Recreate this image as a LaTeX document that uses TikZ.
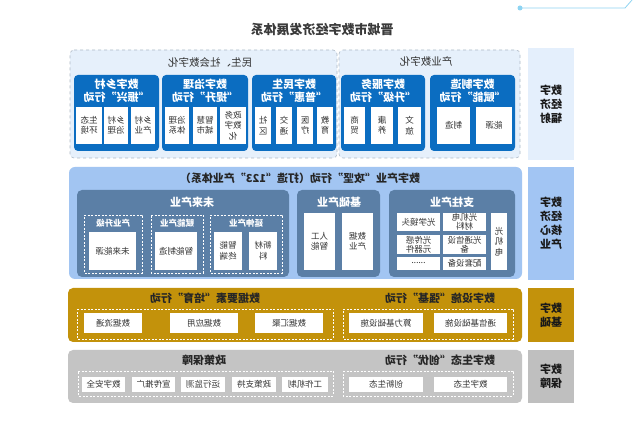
\documentclass[tikz,border=0pt]{standalone}
\usepackage{fontspec}
\setmainfont{Noto Sans CJK SC}
\definecolor{ttl}{HTML}{3A3A3A}
\definecolor{rowA}{HTML}{E6F0FB}
\definecolor{dashg}{HTML}{AEB9C6}
\definecolor{actb}{HTML}{0B6DC1}
\definecolor{rowB}{HTML}{A2C5F2}
\definecolor{slate}{HTML}{5B7FA6}
\definecolor{gold}{HTML}{C3920B}
\definecolor{grayb}{HTML}{C4C4C4}
\definecolor{labA}{HTML}{E4EFFC}
\definecolor{labB}{HTML}{A2C5F3}
\definecolor{labD}{HTML}{BFBFBF}
\definecolor{deco}{HTML}{8ED4F2}
\definecolor{txt}{HTML}{333333}
\newcommand\bx[7]{%
  \pgfmathsetmacro\bxcx{(#2+#4)/2}\pgfmathsetmacro\bxcy{(#3+#5)/2}%
  \pgfmathsetmacro\bxw{#4-#2}\pgfmathsetmacro\bxh{#5-#3}%
  \node[#6, minimum width=\bxw pt, minimum height=\bxh pt] (#1) at (\bxcx,\bxcy) {#7};}
\tikzset{
  base/.style={inner sep=0pt, outer sep=0pt, align=center},
  wbox/.style={base, fill=white, text=txt, font=\fontsize{8.5}{10.5}\selectfont},
  actbox/.style={base, fill=actb, rounded corners=4pt},
  regA/.style={base, fill=rowA, draw=dashg, dashed, rounded corners=4pt, line width=0.6pt},
  rowpanel/.style={base, rounded corners=6pt},
  slatep/.style={base, fill=slate, rounded corners=5pt},
  wdash/.style={base, draw=white, dashed, line width=0.6pt, dash pattern=on 2pt off 1.5pt},
  hdr/.style={base, text=white, font=\fontsize{11}{13}\selectfont\bfseries},
  subh/.style={base, text=white, font=\fontsize{8.5}{10}\selectfont\bfseries},
  rtitle/.style={base, text=black!85, font=\fontsize{11}{13}\selectfont\bfseries},
  lab/.style={base, text=black!90, font=\fontsize{11}{14}\selectfont\bfseries},
}
\begin{document}
\begin{tikzpicture}[x={(-1pt,0pt)},y={(0pt,-1pt)},xscale=-1,every node/.append style={transform shape}]
\useasboundingbox (0,0) rectangle (640,435);
\fill[white] (0,0) rectangle (640,435);
% decoration top right
\coordinate (d1) at (520,8); \coordinate (d2) at (625,8); \coordinate (d3) at (632,0);
\draw[deco, line width=0.8pt] (d1) -- (d2) -- (d3);
\fill[deco] (d1) circle (2.5);
% title
\node[base, text=ttl, font=\fontsize{13}{15}\selectfont\bfseries] (title) at (322,30) {晋城市数字经济发展体系};
% ===== Row 1 =====
\bx{regL}{70}{50}{337}{158}{regA}{}
\bx{regR}{339}{50}{520}{158}{regA}{}
\node[base, text=txt, font=\fontsize{10.5}{12}\selectfont] (tL) at (210,63) {民生、社会数字化};
\node[base, text=txt, font=\fontsize{10.5}{12}\selectfont] (tR) at (426,62) {产业数字化};
\bx{a1}{74}{75}{159}{151}{actbox}{}
\bx{a2}{162}{75}{248}{151}{actbox}{}
\bx{a3}{252}{75}{336}{151}{actbox}{}
\bx{a4}{341}{75}{425}{151}{actbox}{}
\bx{a5}{430}{75}{515}{151}{actbox}{}
\node[hdr] (h1) at (116.5,90.5) {数字乡村\\“振兴”行动};
\node[hdr] (h2) at (205,90.5) {数字治理\\“提升”行动};
\node[hdr] (h3) at (294,90.5) {数字民生\\“普惠”行动};
\node[hdr] (h4) at (383,90.5) {数字服务\\“升级”行动};
\node[hdr] (h5) at (472.5,90.5) {数字制造\\“赋能”行动};
\bx{w11}{76}{107}{102}{144}{wbox}{生态\\环境}
\bx{w12}{104}{107}{128}{144}{wbox}{乡村\\治理}
\bx{w13}{131}{107}{155}{144}{wbox}{乡村\\产业}
\bx{w21}{165}{107}{189}{144}{wbox}{治理\\体系}
\bx{w22}{193}{107}{217}{144}{wbox}{智慧\\城市}
\bx{w23}{220}{107}{246}{144}{wbox}{政务\\数字\\化}
\bx{w31}{255}{107}{271}{144}{wbox}{社\\区}
\bx{w32}{276}{107}{292}{144}{wbox}{交\\通}
\bx{w33}{297}{107}{313}{144}{wbox}{医\\疗}
\bx{w34}{317}{107}{333}{144}{wbox}{教\\育}
\bx{w41}{344}{107}{365}{144}{wbox}{商\\贸}
\bx{w42}{371}{107}{393}{144}{wbox}{康\\养}
\bx{w43}{398}{107}{421}{144}{wbox}{文\\旅}
\bx{w51}{437}{107}{470}{144}{wbox}{制造}
\bx{w52}{476}{107}{512}{144}{wbox}{能源}
% ===== Row 2 =====
\bx{p2}{69}{167}{522}{279}{rowpanel, fill=rowB}{}
\node[rtitle] (t2) at (300,178.5) {数字产业“攻坚”行动（打造“123”产业体系）};
\bx{s1}{77}{190}{289}{277}{slatep}{}
\bx{s2}{297}{190}{380}{277}{slatep}{}
\bx{s3}{389}{190}{515}{277}{slatep}{}
\node[hdr] (hs1) at (192,202) {未来产业};
\node[hdr] (hs2) at (339,202) {基础产业};
\node[hdr] (hs3) at (452,202) {支柱产业};
\bx{g1}{84}{215}{142}{273}{wdash}{}
\bx{g2}{151}{215}{203}{273}{wdash}{}
\bx{g3}{210}{215}{282}{273}{wdash}{}
\node[subh] (gh1) at (113,223.5) {产业升级};
\node[subh] (gh2) at (177,223.5) {赋能产业};
\node[subh] (gh3) at (246,223.5) {延伸产业};
\bx{f1}{89}{232}{136}{270}{wbox}{未来能源}
\bx{f2}{155}{232}{197}{270}{wbox}{智能制造}
\bx{f3}{214}{232}{242}{270}{wbox}{智能\\终端}
\bx{f4}{249}{232}{277}{270}{wbox}{新材\\料}
\bx{b1}{304}{213}{335}{270}{wbox}{人工\\智能}
\bx{b2}{342}{213}{373}{270}{wbox}{数据\\产业}
\bx{z1}{397}{213}{440}{231}{wbox}{光学镜头}
\bx{z2}{443}{213}{486}{231}{wbox, font=\fontsize{8.5}{9}\selectfont}{光机电\\材料}
\bx{z3}{397}{235}{440}{254}{wbox, font=\fontsize{8.5}{9}\selectfont}{光传感\\元器件}
\bx{z4}{443}{235}{486}{254}{wbox, font=\fontsize{8.5}{9}\selectfont}{光通信设\\备}
\bx{z5}{397}{257}{440}{270}{wbox}{......}
\bx{z6}{443}{257}{486}{270}{wbox}{配套设备}
\bx{z7}{491}{213}{507}{270}{wbox}{光\\机\\电}
% ===== Row 3 =====
\bx{p3}{68}{288}{522}{342}{rowpanel, fill=gold, rounded corners=5pt}{}
\node[rtitle] (t3a) at (205,298.5) {数据要素“培育”行动};
\node[rtitle] (t3b) at (440,298.5) {数字设施“强基”行动};
\bx{g31}{77}{309}{333}{339}{wdash}{}
\bx{g32}{343}{309}{513}{339}{wdash}{}
\bx{c1}{84}{313}{142}{333}{wbox}{数据流通}
\bx{c2}{170}{313}{238}{333}{wbox}{数据应用}
\bx{c3}{255}{313}{323}{333}{wbox}{数据汇聚}
\bx{c4}{349}{313}{423}{333}{wbox}{算力基础设施}
\bx{c5}{434}{313}{507}{333}{wbox}{通信基础设施}
% ===== Row 4 =====
\bx{p4}{68}{350}{522}{403}{rowpanel, fill=grayb, rounded corners=5pt}{}
\node[rtitle] (t4a) at (204,360.5) {政策保障};
\node[rtitle] (t4b) at (440,360.5) {数字生态“创优”行动};
\bx{g41}{78}{371}{333}{396}{wdash}{}
\bx{g42}{343}{371}{513}{396}{wdash}{}
\bx{e1}{82}{377}{125}{392}{wbox}{数字安全}
\bx{e2}{132}{377}{175}{392}{wbox}{宣传推广}
\bx{e3}{181}{377}{225}{392}{wbox}{运行监测}
\bx{e4}{232}{377}{276}{392}{wbox}{政策支持}
\bx{e5}{282}{377}{328}{392}{wbox}{工作机制}
\bx{e6}{349}{377}{423}{392}{wbox}{创新生态}
\bx{e7}{434}{377}{507}{392}{wbox}{数字生态}
% ===== Labels =====
\bx{l1}{528}{48}{574}{160}{lab, fill=labA}{数字\\经济\\辐射}
\bx{l2}{528}{167}{574}{280}{lab, fill=labB}{数字\\经济\\核心\\产业}
\bx{l3}{528}{288}{574}{342}{lab, fill=gold}{数字\\基础}
\bx{l4}{528}{350}{574}{403}{lab, fill=labD}{数字\\保障}
\end{tikzpicture}
\end{document}
